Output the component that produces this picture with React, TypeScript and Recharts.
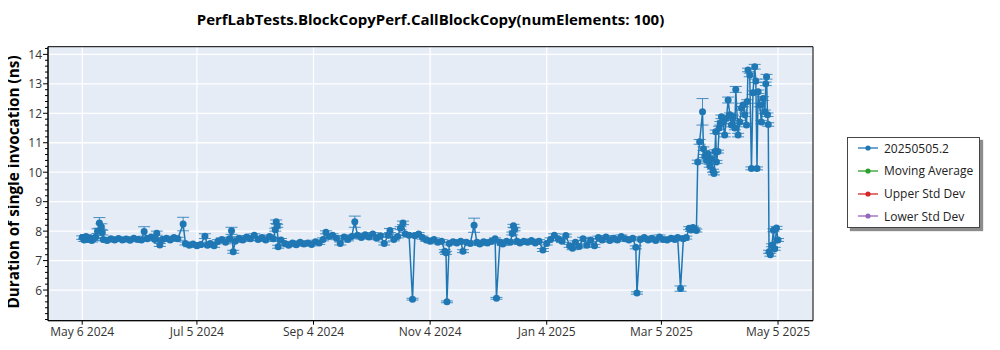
import { LineChart, Line, XAxis, YAxis, CartesianGrid, ErrorBar, ReferenceArea } from "recharts";

// days since May 6 2024
const dayOffsets = [
  0, 1, 2, 3, 4, 5, 6, 7, 8, 9,
  10, 10.5, 11, 13, 15, 17, 19, 21, 23, 25,
  27, 29, 31, 32.4, 34, 36, 38, 39, 40.6, 42,
  44, 46, 48, 50, 52.8, 54, 56, 58, 60, 62,
  64.2, 65.5, 67, 69, 71, 73, 75, 77, 78.1, 79,
  80, 82, 84, 86, 88, 90, 92, 94, 96, 98,
  100, 101, 101.5, 102, 102.5, 104, 106, 108, 110, 112,
  114, 116, 118, 120, 122, 124, 126, 127.5, 129, 131,
  133, 135, 137, 139, 141, 142.6, 144, 146, 148, 150,
  152, 154, 156, 158, 160, 161, 163, 165, 166.5, 167.8,
  169, 171, 172.8, 174, 176, 178, 180, 182, 184, 186,
  188, 189.7, 190.3, 190.8, 192, 194, 196, 198, 199.2, 201,
  203, 205, 206.5, 208, 210, 212, 214, 216, 216.7, 218.5,
  220, 222, 224, 225, 225.6, 226.2, 227.5, 229, 231, 233,
  235, 237, 239, 241, 243, 245, 247, 249, 251, 253,
  255, 256.5, 258, 260, 262, 264, 266, 268, 270, 272,
  274, 276, 278, 280, 282, 284, 286, 288, 289.6, 290.2,
  292, 294, 296, 298, 300, 302, 304, 306, 308, 310,
  311.5, 313, 314.5, 316, 317.5, 318.5, 319.5, 320.5, 321.3, 322,
  323, 324.5, 325, 325.7, 326.6, 327.4, 328.3, 329.2, 330, 330.5,
  331, 331.4, 331.8, 332.6, 333.2, 333.8, 334.4, 335.2, 336.1, 337,
  337.9, 338.8, 339.6, 340.5, 341.4, 341.9, 343.1, 344, 344.9, 345.7,
  346.6, 347.5, 347.9, 348.3, 349.2, 350.1, 350.9, 351.8, 352.4, 353,
  353.6, 354.4, 355.3, 356.2, 357.1, 357.6, 358, 358.5, 358.9, 359.3,
  360, 360.8, 361.6, 362.3, 363.2, 364,
];

const durationNs = [
  7.78, 7.70, 7.82, 7.72, 7.76, 7.68, 7.74, 7.80, 8.00, 8.28,
  8.15, 7.95, 7.72, 7.68, 7.74, 7.70, 7.75, 7.70, 7.73, 7.69,
  7.76, 7.72, 7.70, 7.99, 7.74, 7.80, 7.72, 7.93, 7.53, 7.72,
  7.76, 7.70, 7.78, 7.74, 8.24, 7.58, 7.52, 7.56, 7.50, 7.55,
  7.83, 7.52, 7.58, 7.50, 7.66, 7.72, 7.62, 7.74, 8.01, 7.30,
  7.66, 7.76, 7.70, 7.80, 7.74, 7.86, 7.72, 7.78, 7.70, 7.82,
  7.74, 8.05, 8.32, 8.18, 7.47, 7.70, 7.58, 7.52, 7.60, 7.54,
  7.62, 7.56, 7.60, 7.55, 7.64, 7.60, 7.72, 7.96, 7.82, 7.86,
  7.76, 7.58, 7.80, 7.72, 7.82, 8.32, 7.86, 7.78, 7.88, 7.80,
  7.90, 7.76, 7.84, 7.58, 7.86, 8.02, 7.72, 7.82, 8.10, 8.28,
  7.90, 7.86, 5.69, 7.84, 7.90, 7.78, 7.70, 7.66, 7.72, 7.62,
  7.66, 7.32, 7.26, 5.60, 7.58, 7.64, 7.60, 7.66, 7.32, 7.62,
  7.58, 8.20, 7.62, 7.56, 7.64, 7.60, 7.66, 7.74, 5.72, 7.62,
  7.56, 7.66, 7.62, 7.92, 8.18, 8.06, 7.66, 7.60, 7.66, 7.62,
  7.68, 7.60, 7.66, 7.36, 7.58, 7.72, 7.86, 7.74, 7.66, 7.85,
  7.50, 7.42, 7.62, 7.48, 7.74, 7.52, 7.70, 7.50, 7.78, 7.70,
  7.80, 7.68, 7.76, 7.70, 7.82, 7.74, 7.70, 7.76, 7.45, 5.90,
  7.72, 7.78, 7.70, 7.76, 7.68, 7.80, 7.72, 7.70, 7.76, 7.72,
  7.78, 6.05, 7.74, 7.78, 8.10, 8.04, 8.12, 8.06, 8.02, 10.35,
  11.03, 12.05, 10.80, 10.55, 10.40, 10.62, 10.22, 10.45, 10.05, 9.96,
  10.70, 11.37, 10.35, 10.70, 11.50, 11.66, 11.88, 11.70, 11.26, 11.82,
  12.45, 11.95, 11.60, 11.88, 11.50, 12.81, 11.26, 11.70, 12.17, 12.28,
  11.95, 11.60, 12.40, 13.47, 13.30, 10.13, 12.70, 13.58, 13.10, 10.13,
  12.73, 12.28, 11.70, 12.50, 12.05, 13.00, 13.24, 11.95, 11.62, 7.30,
  7.20, 7.52, 8.03, 7.40, 8.11, 7.70,
];

const stdDevNs = [
  0.06, 0.05, 0.06, 0.05, 0.06, 0.05, 0.05, 0.05, 0.08, 0.18,
  0.10, 0.08, 0.05, 0.05, 0.05, 0.05, 0.05, 0.05, 0.05, 0.05,
  0.05, 0.05, 0.05, 0.16, 0.05, 0.05, 0.05, 0.07, 0.05, 0.05,
  0.05, 0.05, 0.05, 0.05, 0.23, 0.05, 0.05, 0.05, 0.05, 0.05,
  0.08, 0.05, 0.05, 0.05, 0.05, 0.05, 0.05, 0.05, 0.12, 0.05,
  0.05, 0.05, 0.05, 0.05, 0.05, 0.05, 0.05, 0.05, 0.05, 0.05,
  0.05, 0.05, 0.06, 0.05, 0.05, 0.05, 0.05, 0.05, 0.05, 0.05,
  0.05, 0.05, 0.05, 0.05, 0.05, 0.05, 0.05, 0.05, 0.05, 0.05,
  0.05, 0.05, 0.05, 0.05, 0.05, 0.19, 0.05, 0.05, 0.05, 0.05,
  0.05, 0.05, 0.05, 0.05, 0.05, 0.07, 0.05, 0.05, 0.05, 0.06,
  0.05, 0.05, 0.03, 0.05, 0.05, 0.05, 0.05, 0.05, 0.05, 0.05,
  0.05, 0.05, 0.05, 0.03, 0.05, 0.05, 0.05, 0.05, 0.05, 0.05,
  0.05, 0.24, 0.05, 0.05, 0.05, 0.05, 0.05, 0.03, 0.03, 0.05,
  0.05, 0.05, 0.05, 0.05, 0.05, 0.05, 0.05, 0.05, 0.05, 0.05,
  0.05, 0.05, 0.05, 0.05, 0.05, 0.05, 0.05, 0.05, 0.05, 0.05,
  0.05, 0.05, 0.05, 0.05, 0.05, 0.05, 0.05, 0.05, 0.05, 0.05,
  0.05, 0.05, 0.05, 0.05, 0.05, 0.05, 0.05, 0.05, 0.05, 0.04,
  0.05, 0.05, 0.05, 0.05, 0.05, 0.07, 0.05, 0.05, 0.05, 0.05,
  0.06, 0.09, 0.05, 0.05, 0.05, 0.05, 0.05, 0.05, 0.05, 0.06,
  0.08, 0.45, 0.06, 0.05, 0.05, 0.05, 0.05, 0.05, 0.05, 0.05,
  0.06, 0.06, 0.05, 0.05, 0.06, 0.06, 0.06, 0.06, 0.06, 0.06,
  0.10, 0.06, 0.06, 0.06, 0.06, 0.10, 0.06, 0.06, 0.06, 0.06,
  0.06, 0.06, 0.06, 0.06, 0.06, 0.05, 0.06, 0.08, 0.06, 0.05,
  0.06, 0.06, 0.06, 0.06, 0.06, 0.06, 0.08, 0.06, 0.06, 0.05,
  0.05, 0.05, 0.05, 0.05, 0.05, 0.05,
];

const tickDays = [0, 60, 121, 182, 243, 303, 364];
const tickLabels = ["May 6 2024", "Jul 5 2024", "Sep 4 2024", "Nov 4 2024", "Jan 4 2025", "Mar 5 2025", "May 5 2025"];
const yMajor = [6, 7, 8, 9, 10, 11, 12, 13, 14];

const legendNames = ["20250505.2", "Moving Average", "Upper Std Dev", "Lower Std Dev"];
const legendColors = ["#1f77b4", "#2ca02c", "#d62728", "#9467bd"];

const FONT = "'Open Sans', 'Noto Sans', sans-serif";
const X_DOMAIN = [-17.9, 382.3];
const Y_DOMAIN = [4.96, 14.26];

const points = dayOffsets.map((d, i) => ({ day: d, ns: durationNs[i], err: stdDevNs[i] }));

// minor ticks every 0.2 on the y axis
const yTicks: number[] = [];
for (let i = 25; i <= 71; i++) yTicks.push(Math.round(i * 20) / 100);

function YTick(props: any) {
  const { x, y, payload } = props;
  const v = payload.value;
  const major = yMajor.includes(Math.round(v * 100) / 100);
  return (
    <g>
      <line x1={x - (major ? 5 : 3)} x2={x} y1={y} y2={y} stroke="#000" strokeWidth={1} />
      {major && (
        <text x={x - 6} y={y} textAnchor="end" dominantBaseline="central" fontSize={12} fontFamily={FONT} fill="#333">
          {v}
        </text>
      )}
    </g>
  );
}

export default function App() {
  return (
    <div style={{ position: "relative", width: 980, height: 340, fontFamily: FONT }}>
      <div
        style={{
          position: "absolute",
          left: 40,
          width: 765,
          top: 0,
          height: 22,
          lineHeight: "22px",
          textAlign: "center",
          fontWeight: 700,
          fontSize: 15,
          color: "#000",
        }}
      >
        PerfLabTests.BlockCopyPerf.CallBlockCopy(numElements: 100)
      </div>
      <div
        style={{
          position: "absolute",
          left: 5 - 150,
          top: 174 - 11,
          width: 300,
          height: 22,
          lineHeight: "22px",
          textAlign: "center",
          fontWeight: 700,
          fontSize: 15.3,
          color: "#000",
          transform: "rotate(-90deg)",
        }}
      >
        Duration of single invocation (ns)
      </div>

      <LineChart width={980} height={340} data={points} margin={{ top: 38.7, right: 175, bottom: 1.3, left: 0 }}>
        <CartesianGrid
          fill="#e5ecf6"
          stroke="#ffffff"
          strokeWidth={1.3}
          horizontalValues={yMajor}
          verticalValues={tickDays}
        />
        <XAxis
          type="number"
          dataKey="day"
          domain={X_DOMAIN}
          allowDataOverflow
          ticks={tickDays}
          interval={0}
          height={26}
          tickSize={4}
          tickMargin={3}
          tickFormatter={(v: number) => tickLabels[tickDays.indexOf(v)] ?? ""}
          tick={{ fontSize: 12, fill: "#333", fontFamily: FONT }}
          axisLine={{ stroke: "#000" }}
          tickLine={{ stroke: "#000" }}
        />
        <YAxis
          type="number"
          domain={Y_DOMAIN}
          allowDataOverflow
          ticks={yTicks}
          interval={0}
          width={40}
          tickSize={0}
          tickMargin={0}
          tick={<YTick />}
          axisLine={{ stroke: "#000" }}
          tickLine={false}
        />
        <ReferenceArea x1={X_DOMAIN[0]} x2={X_DOMAIN[1]} y1={Y_DOMAIN[0]} y2={Y_DOMAIN[1]} fill="none" stroke="#000" strokeWidth={1} />
        <Line
          type="linear"
          dataKey="ns"
          stroke="#1f77b4"
          strokeWidth={1.5}
          dot={{ r: 3.5, fill: "#1f77b4", stroke: "none" }}
          activeDot={false}
          isAnimationActive={false}
        >
          <ErrorBar dataKey="err" direction="y" width={6} stroke="#1f77b4" strokeOpacity={0.8} strokeWidth={1} />
        </Line>
      </LineChart>

      <div
        style={{
          position: "absolute",
          left: 839,
          top: 129,
          width: 131,
          height: 89,
          border: "1px solid #444",
          background: "#fff",
          boxShadow: "3px 3px 1px rgba(0,0,0,0.45)",
        }}
      >
        {legendNames.map((name, i) => (
          <div
            key={name}
            style={{ position: "absolute", left: 10, top: 10.3 + i * 22.6 - 9, height: 18, display: "flex", alignItems: "center" }}
          >
            <svg width={20} height={8} style={{ display: "block" }}>
              <line x1={0} x2={20} y1={4} y2={4} stroke={legendColors[i]} strokeWidth={1.3} />
              <circle cx={10} cy={4} r={2.6} fill={legendColors[i]} />
            </svg>
            <span style={{ marginLeft: 6, fontSize: 12, color: "#222", whiteSpace: "nowrap" }}>{name}</span>
          </div>
        ))}
      </div>
    </div>
  );
}
